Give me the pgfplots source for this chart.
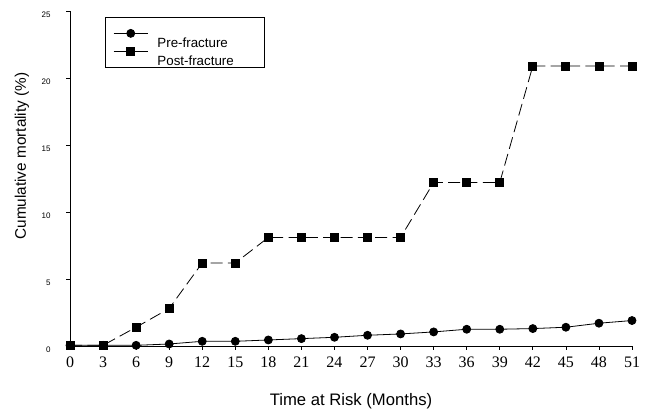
\documentclass[border=0pt]{standalone}
\usepackage{fontspec}
\setmainfont{Liberation Serif}
\newfontfamily\arial{Liberation Sans}
\usepackage{pgfplots}
\pgfplotsset{compat=1.18}

\pgfplotstableread{
t  pre   post
0  0.05  0.05
3  0.05  0.05
6  0.05  1.4
9  0.15  2.8
12 0.35  6.2
15 0.35  6.2
18 0.45  8.1
21 0.55  8.1
24 0.65  8.1
27 0.8   8.1
30 0.9   8.1
33 1.05  12.2
36 1.25  12.2
39 1.25  12.2
42 1.3   20.9
45 1.4   20.9
48 1.7   20.9
51 1.9   20.9
}\mortality

\begin{document}
\begin{tikzpicture}
\begin{axis}[
  scale only axis, width=421.5pt, height=251.25pt,
  xmin=0, xmax=51, ymin=0, ymax=25,
  axis x line*=bottom, axis y line*=left,
  axis line style={line width=0.6pt},
  xtick={0,3,...,51}, ytick={0,5,...,25},
  tick align=outside, major tick length=3pt,
  tick style={black, line width=0.5pt},
  /pgf/number format/assume math mode=true,
  typeset ticklabels with strut,
  xticklabel style={font=\fontsize{12}{12}\selectfont, yshift=-1pt},
  yticklabel style={font=\arial\fontsize{6}{6}\selectfont, xshift=-8pt, yshift=-3.5pt},
  xlabel={Time at Risk (Months)},
  ylabel={Cumulative mortality (\%)},
  xlabel style={font=\arial\fontsize{12.5}{13}\selectfont, at={(axis description cs:0.5,-0.164)}, anchor=center},
  ylabel style={font=\arial\fontsize{11.5}{12}\selectfont, at={(axis description cs:-0.0854,0.567)}, anchor=center},
  legend image code/.code={
    \draw[#1, solid, mark=none] (0pt,0pt) -- (25.5pt,0pt);
    \draw[#1, solid] plot coordinates {(12.75pt,0pt)};},
  legend style={at={(axis description cs:0.0623,0.982)}, anchor=north west,
    draw=black, line width=0.5pt, font=\arial\fontsize{10}{10}\selectfont,
    inner xsep=6pt, inner ysep=9pt, row sep=7.5pt,
    /tikz/every odd column/.append style={column sep=5pt}},
  legend cell align=left,
  clip=false,
]
\addplot[black, line width=0.6pt, mark=*, mark size=3pt] table[x=t, y=pre] {\mortality};
\addlegendentry{\raisebox{-11pt}[0pt][0pt]{Pre-fracture}}
\addplot[black, line width=0.6pt, dash pattern=on 9pt off 4pt, mark=square*, mark size=3pt, mark options={solid}] table[x=t, y=post] {\mortality};
\addlegendentry{\raisebox{-11pt}[0pt][0pt]{Post-fracture\hspace{15pt}}}
\end{axis}
\pgfresetboundingbox
\path[use as bounding box] ([shift={(-52.5pt,-50.25pt)}]current axis.south west) rectangle ([shift={(15pt,8.25pt)}]current axis.north east);
\end{tikzpicture}
\end{document}
